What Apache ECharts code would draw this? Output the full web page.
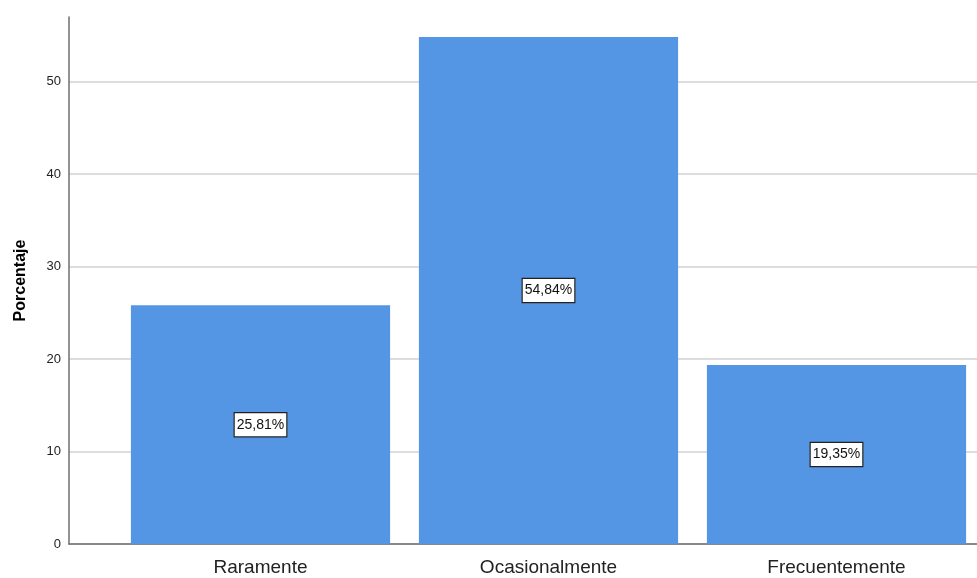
<!DOCTYPE html>
<html><head><meta charset="utf-8">
<script src="https://cdn.jsdelivr.net/npm/echarts@6/dist/echarts.min.js"></script>
<style>html,body{margin:0;padding:0;background:#fff}#c{width:977px;height:578px}</style>
</head><body><div id="c"></div>
<script>
const categories = ['Raramente', 'Ocasionalmente', 'Frecuentemente'];
const percentages = [25.81, 54.84, 19.35];
const yTicks = [0, 10, 20, 30, 40, 50];
const yTitle = 'Porcentaje';

const chart = echarts.init(document.getElementById('c'));
const FONT = '"Liberation Sans", Arial, sans-serif';
chart.setOption({
  animation: false,
  grid: [
    {left: 69, right: 0, top: 17, bottom: 34, outerBoundsMode: 'none'},
    {left: 116.5, width: 864, top: 17, bottom: 34, outerBoundsMode: 'none'}
  ],
  xAxis: [
    {gridIndex: 0, type: 'value', min: 0, max: 1, axisLine: {show: true, lineStyle: {color: '#6e6e6e', width: 1.5}},
     axisTick: {show: false}, axisLabel: {show: false}, splitLine: {show: false}},
    {gridIndex: 1, type: 'category', data: categories, axisLine: {show: false}, axisTick: {show: false},
     axisLabel: {fontFamily: FONT, fontSize: 19, color: '#222', margin: 14}}
  ],
  yAxis: [
    {gridIndex: 0, type: 'value', min: 0, max: 57, interval: 10,
     axisLine: {show: true, lineStyle: {color: '#6e6e6e', width: 1.5}},
     axisTick: {show: false},
     axisLabel: {fontFamily: FONT, fontSize: 13, color: '#222', margin: 8,
       formatter: v => yTicks.includes(v) ? String(v) : ''},
     splitLine: {show: true, showMaxLine: false, lineStyle: {color: '#d2d2d2', width: 1.5}},
     name: yTitle, nameLocation: 'middle', nameGap: 40,
     nameTextStyle: {fontFamily: FONT, fontSize: 16, fontWeight: 'bold', color: '#000'}},
    {gridIndex: 1, type: 'value', min: 0, max: 57, show: false, splitLine: {show: false}}
  ],
  series: [{
    type: 'bar', xAxisIndex: 1, yAxisIndex: 1,
    data: percentages, barCategoryGap: '10%',
    itemStyle: {color: '#5596e4'},
    label: {show: true, position: 'inside', fontFamily: FONT, fontSize: 14, color: '#111',
      backgroundColor: '#fff', borderColor: '#222', borderWidth: 1.2, padding: [5, 2, 4, 2],
      formatter: p => p.value.toFixed(2).replace('.', ',') + '%'}
  }]
});
</script></body></html>
